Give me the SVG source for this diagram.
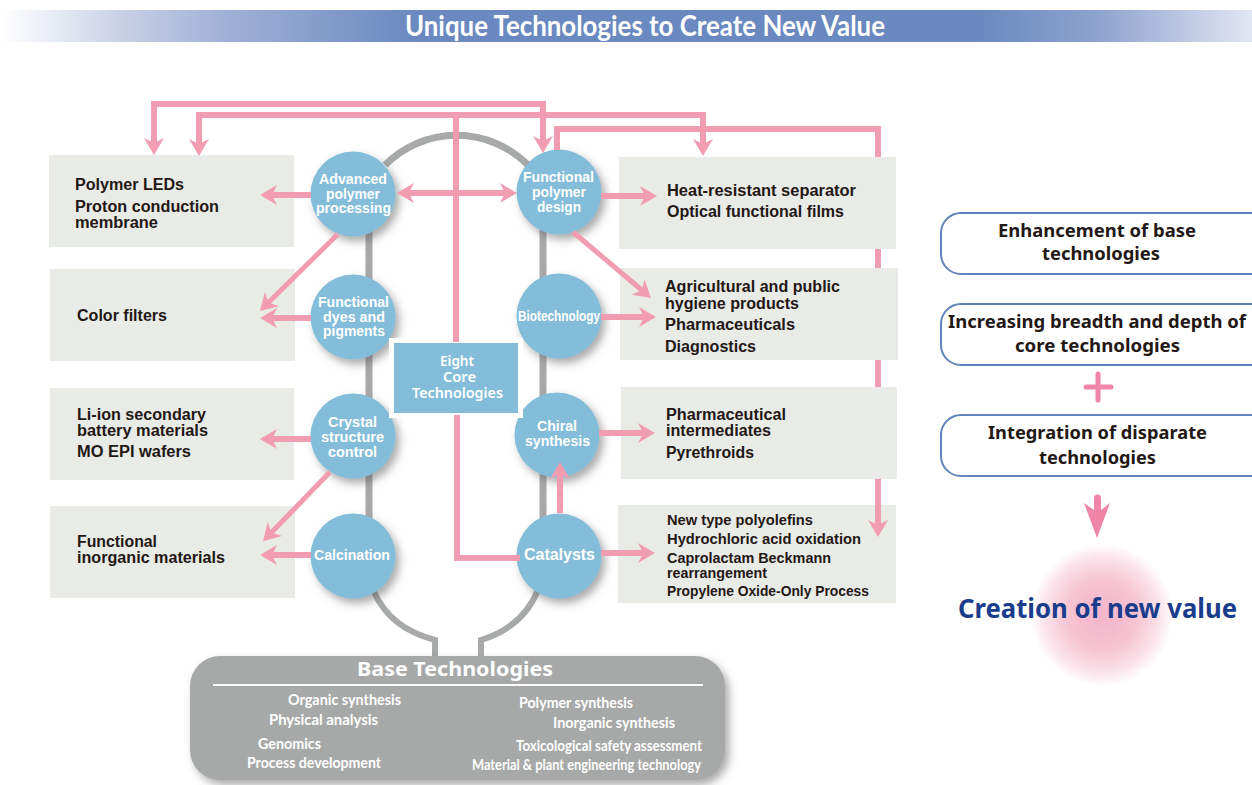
<svg xmlns="http://www.w3.org/2000/svg" width="1252" height="785" viewBox="0 0 1252 785">
<style>
.l{font:bold 16px "Liberation Sans",Arial,sans-serif;fill:#231815}
.s{font-size:15px}
.c{font:bold 14px "Liberation Sans",Arial,sans-serif;fill:#fff}
.h{font-family:"Noto Sans",sans-serif;font-weight:700;fill:#231815;font-size:18px}
.b{font:700 15px Lato,"Open Sans",sans-serif;fill:#fff}
.box{fill:#e9ebe7}
.circ{fill:#84bdd9;filter:url(#sh)}
.p{fill:none;stroke:#f19cb0;stroke-width:6}
.d{stroke-width:5}
.a{marker-end:url(#ah)}
.a2{marker-start:url(#ah);marker-end:url(#ah)}
.t{fill:none;stroke:#a8a9a9;stroke-width:7}
.r{fill:#fff;stroke:#6184bd;stroke-width:2}
</style>
<defs>
<linearGradient id="hd" x1="0" x2="1" y1="0" y2="0">
<stop offset="0" stop-color="#fff"/><stop offset=".1" stop-color="#c5cee4"/><stop offset=".18" stop-color="#9fb0d6"/><stop offset=".33" stop-color="#6a89c0"/><stop offset=".78" stop-color="#6a89c0"/><stop offset=".88" stop-color="#8fa4cf"/><stop offset="1" stop-color="#e2e6f3"/>
</linearGradient>
<radialGradient id="glow"><stop offset="0" stop-color="#f4b4c9"/><stop offset=".5" stop-color="#f6c4d3"/><stop offset=".82" stop-color="#fbe4eb"/><stop offset="1" stop-color="#fff"/></radialGradient>
<filter id="sh" x="-30%" y="-30%" width="170%" height="170%"><feDropShadow dx="4" dy="5" stdDeviation="4" flood-color="#555" flood-opacity=".5"/></filter>
<marker id="ah" markerUnits="userSpaceOnUse" markerWidth="17" markerHeight="20" viewBox="0 0 17 20" refX="7" refY="10" orient="auto-start-reverse"><path d="M0 0L17 10L0 20L5 10Z" fill="#f19cb0"/></marker>
</defs>

<g id="header">
<rect x="3" y="10" width="1249" height="32" fill="url(#hd)"/>
<text x="405" y="36" textLength="480" lengthAdjust="spacingAndGlyphs" style="font:700 28px Lato,sans-serif;fill:#fff">Unique Technologies to Create New Value</text>
</g>

<g id="track">
<path class="t" d="M369 230V520M543 230V520M385 165A101 101 0 0 1 528 165"/>
<path class="t" style="stroke-width:6" d="M373 590C385 617 405 632 435 640V657M538 590C527 617 507 632 481 640V657"/>
</g>

<g id="n-polymer-leds"><rect class="box" x="49" y="155" width="245" height="92"/>
<text class="l" x="75" y="190" textLength="109" lengthAdjust="spacingAndGlyphs">Polymer LEDs</text>
<text class="l" x="75" y="212" textLength="144" lengthAdjust="spacingAndGlyphs">Proton conduction</text>
<text class="l" x="75" y="228" textLength="83" lengthAdjust="spacingAndGlyphs">membrane</text></g>
<g id="n-color-filters"><rect class="box" x="50" y="269" width="245" height="92"/>
<text class="l" x="77" y="321" textLength="90" lengthAdjust="spacingAndGlyphs">Color filters</text></g>
<g id="n-li-ion"><rect class="box" x="50" y="388" width="244" height="92"/>
<text class="l" x="77" y="420" textLength="129" lengthAdjust="spacingAndGlyphs">Li-ion secondary</text>
<text class="l" x="77" y="436" textLength="131" lengthAdjust="spacingAndGlyphs">battery materials</text>
<text class="l" x="77" y="457" textLength="114" lengthAdjust="spacingAndGlyphs">MO EPI wafers</text></g>
<g id="n-inorganic"><rect class="box" x="50" y="506" width="245" height="92"/>
<text class="l" x="77" y="547" textLength="80" lengthAdjust="spacingAndGlyphs">Functional</text>
<text class="l" x="77" y="563" textLength="148" lengthAdjust="spacingAndGlyphs">inorganic materials</text></g>

<g id="n-separator"><rect class="box" x="619" y="157" width="277" height="92"/>
<text class="l" x="667" y="196" textLength="189" lengthAdjust="spacingAndGlyphs">Heat-resistant separator</text>
<text class="l" x="667" y="217" textLength="177" lengthAdjust="spacingAndGlyphs">Optical functional films</text></g>
<g id="n-agri"><rect class="box" x="620" y="268" width="278" height="92"/>
<text class="l" x="665" y="292" textLength="175" lengthAdjust="spacingAndGlyphs">Agricultural and public</text>
<text class="l" x="665" y="309" textLength="134" lengthAdjust="spacingAndGlyphs">hygiene products</text>
<text class="l" x="665" y="330" textLength="130" lengthAdjust="spacingAndGlyphs">Pharmaceuticals</text>
<text class="l" x="665" y="352" textLength="91" lengthAdjust="spacingAndGlyphs">Diagnostics</text></g>
<g id="n-intermediates"><rect class="box" x="621" y="387" width="276" height="92"/>
<text class="l" x="666" y="420" textLength="120" lengthAdjust="spacingAndGlyphs">Pharmaceutical</text>
<text class="l" x="666" y="436" textLength="105" lengthAdjust="spacingAndGlyphs">intermediates</text>
<text class="l" x="666" y="458" textLength="88" lengthAdjust="spacingAndGlyphs">Pyrethroids</text></g>
<g id="n-polyolefins"><rect class="box" x="618" y="505" width="278" height="98"/>
<text class="l s" x="667" y="525" textLength="146" lengthAdjust="spacingAndGlyphs">New type polyolefins</text>
<text class="l s" x="667" y="544" textLength="194" lengthAdjust="spacingAndGlyphs">Hydrochloric acid oxidation</text>
<text class="l s" x="667" y="563" textLength="164" lengthAdjust="spacingAndGlyphs">Caprolactam Beckmann</text>
<text class="l s" x="667" y="578" textLength="100" lengthAdjust="spacingAndGlyphs">rearrangement</text>
<text class="l s" x="667" y="596" textLength="202" lengthAdjust="spacingAndGlyphs">Propylene Oxide-Only Process</text></g>

<g id="n-advanced"><circle class="circ" cx="353" cy="194" r="42.5"/>
<text class="c" x="319" y="184" textLength="68" lengthAdjust="spacingAndGlyphs">Advanced</text>
<text class="c" x="326" y="199" textLength="54" lengthAdjust="spacingAndGlyphs">polymer</text>
<text class="c" x="316" y="213" textLength="75" lengthAdjust="spacingAndGlyphs">processing</text></g>
<g id="n-dyes"><circle class="circ" cx="353" cy="317" r="42.5"/>
<text class="c" x="318" y="307" textLength="71" lengthAdjust="spacingAndGlyphs">Functional</text>
<text class="c" x="323" y="322" textLength="62" lengthAdjust="spacingAndGlyphs">dyes and</text>
<text class="c" x="323" y="336" textLength="62" lengthAdjust="spacingAndGlyphs">pigments</text></g>
<g id="n-crystal"><circle class="circ" cx="353" cy="436" r="42.5"/>
<text class="c" x="328" y="427" textLength="49" lengthAdjust="spacingAndGlyphs">Crystal</text>
<text class="c" x="321" y="442" textLength="63" lengthAdjust="spacingAndGlyphs">structure</text>
<text class="c" x="328" y="457" textLength="49" lengthAdjust="spacingAndGlyphs">control</text></g>
<g id="n-calcination"><circle class="circ" cx="353" cy="556" r="42.5"/>
<text class="c" x="314" y="560" textLength="76" lengthAdjust="spacingAndGlyphs">Calcination</text></g>
<g id="n-functional-polymer"><circle class="circ" cx="559" cy="192" r="42.5"/>
<text class="c" x="523" y="182" textLength="71" lengthAdjust="spacingAndGlyphs">Functional</text>
<text class="c" x="532" y="197" textLength="54" lengthAdjust="spacingAndGlyphs">polymer</text>
<text class="c" x="537" y="212" textLength="44" lengthAdjust="spacingAndGlyphs">design</text></g>
<g id="n-biotech"><circle class="circ" cx="559" cy="316" r="42.5"/>
<text class="c" x="518" y="321" textLength="82" lengthAdjust="spacingAndGlyphs">Biotechnology</text></g>
<g id="n-chiral"><circle class="circ" cx="557" cy="435" r="42.5"/>
<text class="c" x="537" y="431" textLength="40" lengthAdjust="spacingAndGlyphs">Chiral</text>
<text class="c" x="525" y="446" textLength="65" lengthAdjust="spacingAndGlyphs">synthesis</text></g>
<g id="n-catalysts"><circle class="circ" cx="559" cy="556" r="42.5"/>
<text class="c" style="font-size:16px" x="524" y="560" textLength="71" lengthAdjust="spacingAndGlyphs">Catalysts</text></g>

<g id="n-eight"><rect x="389" y="338" width="134" height="80" fill="#fff"/><rect x="394" y="343" width="124" height="70" fill="#84bdd9"/>
<g style="font:600 14px 'Noto Sans',sans-serif;fill:#fff">
<text x="440" y="366" textLength="34" lengthAdjust="spacingAndGlyphs">Eight</text>
<text x="443" y="382" textLength="33" lengthAdjust="spacingAndGlyphs">Core</text>
<text x="412" y="398" textLength="91" lengthAdjust="spacingAndGlyphs">Technologies</text></g></g>

<g id="connectors">
<path class="p a2" d="M543 143V104H154V145"/>
<path class="p a2" d="M703 146V115H199V146"/>
<path class="p" d="M456 115V342M457 415V558H520"/>
<path class="p a" d="M557 150V129H878V157M878 249V268M878 360V387M878 479V527"/>
<path class="p a2" d="M407 193H507"/>
<path class="p a" d="M311 195H270"/>
<path class="p a" d="M311 318H270"/>
<path class="p a" d="M311 439H270"/>
<path class="p a" d="M311 555H270"/>
<path class="p d a" d="M338 234L267 304"/>
<path class="p d a" d="M330 472L270 534"/>
<path class="p d a" d="M573 232L643.4 291.5"/>
<path class="p a" d="M601 196H647"/>
<path class="p a" d="M601 317H646"/>
<path class="p a" d="M599 433H645"/>
<path class="p a" d="M601 553H645"/>
<path class="p a" d="M560 513V472"/>
</g>

<g id="n-base">
<rect x="190" y="656" width="535" height="124" rx="30" fill="#a7a9a8" filter="url(#sh)"/>
<text x="357" y="676" textLength="196" lengthAdjust="spacingAndGlyphs" style="font:700 20px 'Noto Sans',sans-serif;fill:#fff">Base Technologies</text>
<rect x="213" y="684" width="490" height="2" fill="#fff"/>
<text class="b" x="288" y="705" textLength="113" lengthAdjust="spacingAndGlyphs">Organic synthesis</text>
<text class="b" x="269" y="725" textLength="109" lengthAdjust="spacingAndGlyphs">Physical analysis</text>
<text class="b" x="258" y="749" textLength="63" lengthAdjust="spacingAndGlyphs">Genomics</text>
<text class="b" x="247" y="768" textLength="134" lengthAdjust="spacingAndGlyphs">Process development</text>
<text class="b" x="519" y="708" textLength="114" lengthAdjust="spacingAndGlyphs">Polymer synthesis</text>
<text class="b" x="553" y="728" textLength="122" lengthAdjust="spacingAndGlyphs">Inorganic synthesis</text>
<text class="b" x="516" y="751" textLength="186" lengthAdjust="spacingAndGlyphs">Toxicological safety assessment</text>
<text class="b" x="472" y="770" textLength="229" lengthAdjust="spacingAndGlyphs">Material &amp; plant engineering technology</text>
</g>

<g id="n-enhancement"><rect class="r" x="941" y="213" width="330" height="61" rx="20"/>
<text class="h" x="998" y="237" textLength="198" lengthAdjust="spacingAndGlyphs">Enhancement of base</text>
<text class="h" x="1042" y="260" textLength="118" lengthAdjust="spacingAndGlyphs">technologies</text></g>
<g id="n-increasing"><rect class="r" x="941" y="304" width="330" height="61" rx="20"/>
<text class="h" x="948" y="328" textLength="298" lengthAdjust="spacingAndGlyphs">Increasing breadth and depth of</text>
<text class="h" x="1015" y="352" textLength="165" lengthAdjust="spacingAndGlyphs">core technologies</text></g>
<path id="plus" d="M1086 387H1111M1098 374V400" fill="none" stroke="#ef86a8" stroke-width="5" stroke-linecap="round"/>
<g id="n-integration"><rect class="r" x="941" y="415" width="330" height="61" rx="20"/>
<text class="h" x="988" y="439" textLength="219" lengthAdjust="spacingAndGlyphs">Integration of disparate</text>
<text class="h" x="1039" y="464" textLength="117" lengthAdjust="spacingAndGlyphs">technologies</text></g>
<path id="down-arrow" d="M1094 498A3.5 3.5 0 0 1 1101 498V510L1110 503L1097 538L1084 503L1094 510Z" fill="#ef86a8"/>
<g id="n-creation"><circle cx="1102" cy="615" r="71" fill="url(#glow)"/>
<text x="958" y="618" textLength="279" lengthAdjust="spacingAndGlyphs" style="font:700 27px 'Noto Sans',sans-serif;fill:#1a3c8c">Creation of new value</text></g>
</svg>
